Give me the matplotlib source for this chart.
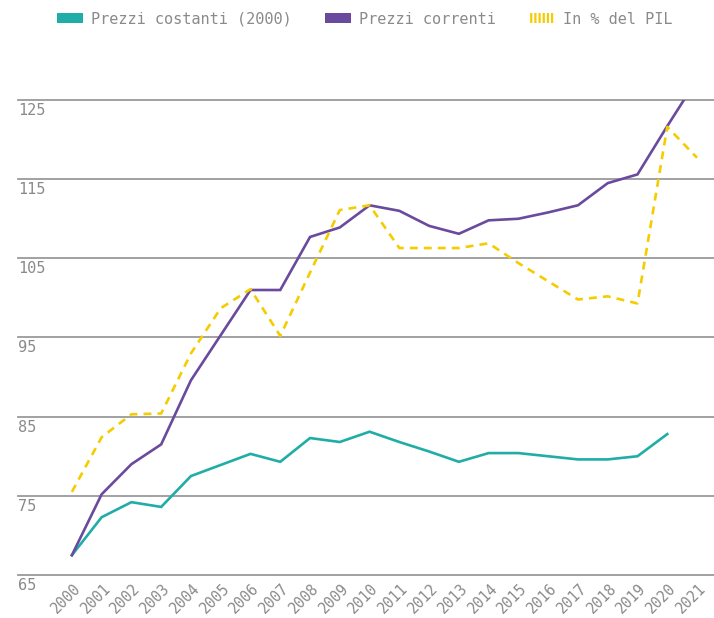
import matplotlib
matplotlib.use('Agg')
import matplotlib.pyplot as plt
import matplotlib.transforms as mtransforms
from matplotlib.patches import Patch
import numpy as np

years = [str(y) for y in range(2000, 2022)]
prezzi_costanti = [67.5, 72.3, 74.2, 73.6, 77.5, 78.9, 80.3, 79.3, 82.3, 81.8, 83.1,
                   81.8, 80.6, 79.3, 80.4, 80.4, 80.0, 79.6, 79.6, 80.0, 82.8, np.nan]
prezzi_correnti = [67.5, 75.2, 79.0, 81.5, 89.6, 95.3, 101.0, 101.0, 107.7, 108.9, 111.7,
                   111.0, 109.1, 108.1, 109.8, 110.0, 110.8, 111.7, 114.5, 115.6, 121.7, 127.6]
in_pil = [75.5, 82.4, 85.3, 85.4, 93.0, 98.7, 101.1, 95.2, 103.2, 111.1, 111.7,
          106.3, 106.3, 106.3, 106.9, 104.4, 102.1, 99.8, 100.2, 99.3, 121.6, 117.7]
yticks = [65, 75, 85, 95, 105, 115, 125]
labels = ['Prezzi costanti (2000)', 'Prezzi correnti', 'In % del PIL']

TEAL = '#20ada8'
PURPLE = '#6a4a9c'
GOLD = '#f5cc00'
GRID = '#9a9a9a'
TXT = '#8a8a8a'

plt.rcParams['font.family'] = ['DejaVu Sans Mono']
plt.rcParams['hatch.linewidth'] = 1.6

fig = plt.figure(figsize=(7.14, 6.18), dpi=100)
ax = fig.add_axes([18/714, 1-575/618, 1-18/714, (575-100)/618])

x = np.arange(len(years))
ax.plot(x, prezzi_costanti, color=TEAL, lw=1.9, solid_joinstyle='miter', zorder=3)
ax.plot(x, prezzi_correnti, color=PURPLE, lw=1.9, solid_joinstyle='miter', zorder=3)
ax.plot(x, in_pil, color=GOLD, lw=1.9, dashes=(3.0, 2.3), zorder=3)

ax.set_xlim(-1.81, 21.57)
ax.set_ylim(65, 125)
ax.set_yticks(yticks)
ax.set_yticklabels([str(v) for v in yticks])
ax.set_xticks(x)
ax.set_xticklabels(years)

for s in ax.spines.values():
    s.set_visible(False)
ax.grid(axis='y', color=GRID, lw=1.3)
ax.grid(axis='x', visible=False)
ax.set_axisbelow(True)
for gl in ax.get_ygridlines():
    gl.set_clip_on(False)

ax.tick_params(axis='both', length=0, labelsize=11, labelcolor=TXT)
ax.tick_params(axis='y', pad=0)
yoff = mtransforms.ScaledTranslation(0, -3/100, fig.dpi_scale_trans)
for lab in ax.get_yticklabels():
    lab.set_ha('left')
    lab.set_va('top')
    lab.set_transform(lab.get_transform() + yoff)

ax.tick_params(axis='x', labelsize=10.5, pad=2)
xoff = mtransforms.ScaledTranslation(1/100, -3/100, fig.dpi_scale_trans)
for lab in ax.get_xticklabels():
    lab.set_rotation(45)
    lab.set_ha('right')
    lab.set_va('top')
    lab.set_rotation_mode('anchor')
    lab.set_transform(lab.get_transform() + xoff)

handles = [Patch(facecolor=TEAL, edgecolor='none'),
           Patch(facecolor=PURPLE, edgecolor='none'),
           Patch(facecolor='none', edgecolor=GOLD, hatch='||||', lw=0)]
leg = fig.legend(handles, labels, loc='center', bbox_to_anchor=(0.511, 1-19/618),
                 ncol=3, frameon=False, fontsize=11, handlelength=1.7, handleheight=0.6,
                 handletextpad=0.5, columnspacing=2.2)
for t in leg.get_texts():
    t.set_color(TXT)

fig.savefig('out.png', dpi=100)
